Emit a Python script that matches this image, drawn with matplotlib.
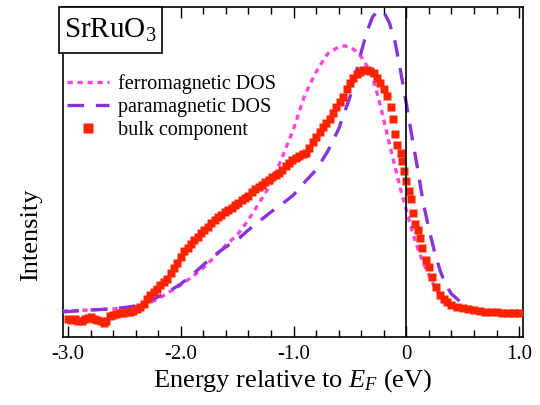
import matplotlib
matplotlib.use("Agg")
import matplotlib.pyplot as plt
from matplotlib.patches import Rectangle
from matplotlib.ticker import MultipleLocator

plt.rcParams['font.family'] = ['Liberation Serif', 'DejaVu Serif']
plt.rcParams['mathtext.fontset'] = 'custom'
plt.rcParams['mathtext.rm'] = 'Liberation Serif'
plt.rcParams['mathtext.it'] = 'Liberation Serif:italic'
plt.rcParams['axes.unicode_minus'] = False

# ferromagnetic DOS (calculated)
ferro_e = [-3.05, -2.8, -2.6, -2.4, -2.3, -2.2, -2.1, -2.0, -1.9, -1.8, -1.7, -1.6,
           -1.5, -1.4, -1.3, -1.2, -1.1, -1.0, -0.9, -0.8, -0.7, -0.6, -0.55, -0.5,
           -0.45, -0.4, -0.35, -0.3, -0.25, -0.2, -0.15, -0.1, -0.05, 0.0, 0.05, 0.1,
           0.15, 0.2, 0.25, 0.3, 0.35, 0.4, 0.5, 0.6]
ferro_y = [26, 27, 28, 30, 33, 38, 45, 52, 60, 69, 80, 92,
           102, 117, 135, 153, 180, 208, 242, 265, 283, 290, 291, 290,
           286, 280, 271, 259, 240, 217, 193, 170, 147, 127, 106, 89,
           74, 62, 50, 42, 36, 32, 28, 26]

# paramagnetic DOS (calculated)
para_e = [-3.05, -2.8, -2.6, -2.4, -2.3, -2.2, -2.1, -2.0, -1.9, -1.8, -1.7, -1.6,
          -1.5, -1.4, -1.3, -1.2, -1.1, -1.0, -0.9, -0.8, -0.7, -0.6, -0.5, -0.45,
          -0.4, -0.35, -0.3, -0.25, -0.2, -0.15, -0.1, -0.05, 0.0, 0.05, 0.1, 0.15,
          0.2, 0.25, 0.3, 0.35, 0.4, 0.5, 0.6, 0.7, 0.8, 1.0]
para_y = [25, 27, 28, 31, 35, 40, 46, 53, 62, 72, 82, 90,
          97, 107, 116, 125, 133, 142, 155, 167, 185, 208, 240, 262,
          285, 305, 320, 326, 325, 314, 295, 265, 233, 200, 168, 134,
          108, 85, 66, 52, 43, 33, 28, 25, 24, 24]

# bulk component (measured)
bulk_e = [-3.00, -2.97, -2.94, -2.91, -2.88, -2.85, -2.82, -2.80, -2.77, -2.74,
          -2.71, -2.68, -2.66, -2.63, -2.60, -2.57, -2.54, -2.51, -2.48, -2.45,
          -2.42, -2.39, -2.36, -2.33, -2.30, -2.27, -2.24, -2.21, -2.18, -2.15,
          -2.12, -2.09, -2.06, -2.03, -2.00, -1.97, -1.94, -1.91, -1.88, -1.85,
          -1.82, -1.79, -1.76, -1.73, -1.70, -1.67, -1.64, -1.61, -1.58, -1.55,
          -1.52, -1.49, -1.46, -1.43, -1.40, -1.37, -1.34, -1.31, -1.28, -1.25,
          -1.22, -1.19, -1.16, -1.13, -1.10, -1.07, -1.04, -1.01, -0.98, -0.95,
          -0.92, -0.89, -0.86, -0.83, -0.80, -0.77, -0.74, -0.71, -0.68, -0.65,
          -0.62, -0.59, -0.56, -0.53, -0.50, -0.47, -0.44, -0.41, -0.38, -0.35,
          -0.32, -0.29, -0.26, -0.23, -0.20, -0.17, -0.14, -0.12, -0.10, -0.08,
          -0.05, -0.035, -0.02, 0.00, 0.02, 0.04, 0.06, 0.08, 0.10, 0.12,
          0.14, 0.17, 0.20, 0.23, 0.26, 0.30, 0.33, 0.36, 0.40, 0.45,
          0.50, 0.55, 0.60, 0.65, 0.70, 0.75, 0.80, 0.85, 0.90, 0.95, 1.00]
bulk_y = [18, 17, 18, 16, 16, 18, 19, 20, 18, 17,
          16, 14, 16, 21, 22, 23, 24, 24, 25, 25,
          26, 28, 30, 33, 38, 42, 45, 48, 52, 55,
          58, 64, 69, 74, 80, 86, 89, 93, 97, 100,
          104, 107, 110, 114, 117, 120, 122, 125, 127, 129,
          132, 134, 137, 139, 141, 145, 148, 150, 152, 155,
          157, 160, 162, 164, 167, 171, 174, 177, 179, 181,
          183, 184, 189, 195, 200, 205, 210, 214, 218, 224,
          230, 235, 240, 248, 254, 259, 263, 265, 267, 267,
          266, 264, 259, 254, 248, 241, 230, 218, 203, 192,
          184, 176, 166, 156, 146, 138, 124, 113, 107, 99,
          89, 77, 70, 60, 50, 42, 38, 35, 32, 30,
          29, 28, 27, 26, 25, 25, 25, 24, 24, 24, 24]

fig = plt.figure(figsize=(5.4, 4.05), dpi=100)
ax = fig.add_axes([0.1167, 0.168, 0.852, 0.815])

ax.plot(ferro_e, ferro_y, color='#ff44dd', lw=2.4, dashes=(1.6, 1.4),
        label='ferromagnetic DOS', zorder=3)
ax.plot(para_e, para_y, color='#8833dd', lw=2.4, dashes=(5, 3.5),
        label='paramagnetic DOS', zorder=3)
ax.plot(bulk_e, bulk_y, ls='none', marker='s', ms=5.2, color='#ff2200',
        mec='none', label='bulk component', zorder=4)
ax.axvline(0, color='black', lw=1.2, zorder=5)

ax.set_xlim(-3.044, 1.035)
ax.set_ylim(0, 330)
ax.set_yticks([])
ax.xaxis.set_minor_locator(MultipleLocator(0.2))
ax.set_xticks([-3, -2, -1, 0, 1])
ax.set_xticklabels(['-3.0', '-2.0', '-1.0', '0', '1.0'])
ax.tick_params(axis='x', which='both', direction='in', top=True, labelsize=15, pad=6)
ax.tick_params(axis='x', which='major', length=8, width=1)
ax.tick_params(axis='x', which='minor', length=5, width=1)
for s in ax.spines.values():
    s.set_linewidth(1.2)

ax.set_xlabel('Energy relative to $\\mathit{E}_{\\mathit{F}}$ (eV)', fontsize=19, labelpad=2)
ax.set_ylabel('Intensity', fontsize=19)
ax.yaxis.set_label_coords(-0.045, 0.31)

leg = ax.legend(loc='upper left', bbox_to_anchor=(0.009, 0.795), frameon=False,
                fontsize=14.5, handlelength=2.1, handletextpad=0.4,
                labelspacing=0.18, markerscale=1.5, borderaxespad=0, borderpad=0)

# sample label box over the top-left corner
fig.add_artist(Rectangle((0.1093, 0.8691), 0.1907, 0.1136, transform=fig.transFigure,
                         fc='white', ec='black', lw=1.2, zorder=9))
fig.text(0.2046, 0.9062, 'SrRuO$_3$', fontsize=21, va='baseline', ha='center', zorder=10)

fig.savefig('out.png', dpi=100)
plt.close(fig)
